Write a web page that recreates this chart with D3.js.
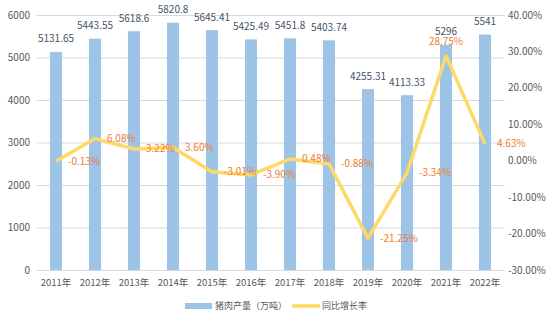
<!DOCTYPE html>
<html><head><meta charset="utf-8">
<script src="https://cdn.jsdelivr.net/npm/d3@7/dist/d3.min.js"></script>
<style>body{margin:0;background:#fff}svg{display:block}text{font-family:"Noto Sans CJK SC","Noto Sans",sans-serif}</style>
</head><body>
<svg id="c" width="554" height="323"></svg>
<script>
const years = ["2011年","2012年","2013年","2014年","2015年","2016年","2017年","2018年","2019年","2020年","2021年","2022年"];
const production = [5131.65,5443.55,5618.6,5820.8,5645.41,5425.49,5451.8,5403.74,4255.31,4113.33,5296,5541];
const productionLabels = ["5131.65","5443.55","5618.6","5820.8","5645.41","5425.49","5451.8","5403.74","4255.31","4113.33","5296","5541"];
const growth = [-0.13,6.08,3.22,3.60,-3.01,-3.90,0.48,-0.88,-21.25,-3.34,28.75,4.63];
const growthLabels = ["-0.13%","6.08%","3.22%","3.60%","-3.01%","-3.90%","0.48%","-0.88%","-21.25%","-3.34%","28.75%","4.63%"];
const leftTicks = [0,1000,2000,3000,4000,5000,6000];
const rightTicks = [-30,-20,-10,0,10,20,30,40];
const legendNames = ["猪肉产量（万吨）","同比增长率"];

const svg = d3.select("#c");
const x = d3.scaleBand().domain(years).range([36.5,504.5]).paddingInner(0.69).paddingOuter(0.345);
const yL = d3.scaleLinear().domain([0,6000]).range([270,15]);
const yR = d3.scaleLinear().domain([-30,40]).range([270,15]);
const cx = d => x(d) + x.bandwidth()/2;

// grid
svg.append("g").selectAll("line").data(leftTicks).join("line")
  .attr("x1",36.5).attr("x2",504.5).attr("y1",d=>yL(d)+0.5).attr("y2",d=>yL(d)+0.5)
  .attr("stroke","#D9D9D9").attr("stroke-width",1);

// left axis labels
svg.append("g").selectAll("text").data(leftTicks).join("text")
  .attr("x",30).attr("y",d=>yL(d)).attr("dy","0.35em").attr("text-anchor","end")
  .attr("font-size",10).attr("fill","#595959").text(d=>d);
// right axis labels
svg.append("g").selectAll("text").data(rightTicks).join("text")
  .attr("x",508).attr("y",d=>yR(d)).attr("dy","0.35em").attr("text-anchor","start")
  .attr("font-size",10).attr("fill","#595959").text(d=>d.toFixed(2)+"%");
// x labels
svg.append("g").selectAll("text").data(years).join("text")
  .attr("x",d=>cx(d)).attr("y",283).attr("dy","0.35em").attr("text-anchor","middle")
  .attr("font-size",9.5).attr("fill","#595959").text(d=>d);

// bars
svg.append("g").selectAll("rect").data(production).join("rect")
  .attr("x",(d,i)=>x(years[i])).attr("width",x.bandwidth())
  .attr("y",d=>yL(d)).attr("height",d=>yL(0)-yL(d)).attr("fill","#9DC3E6");

// line
const line = d3.line().x((d,i)=>cx(years[i])).y(d=>yR(d));
svg.append("path").datum(growth).attr("d",line).attr("fill","none")
  .attr("stroke","#FFD966").attr("stroke-width",3.5).attr("stroke-linejoin","round");

// bar labels
svg.append("g").selectAll("text").data(production).join("text")
  .attr("x",(d,i)=>cx(years[i])).attr("y",d=>yL(d)-13).attr("dy","0.35em").attr("text-anchor","middle")
  .attr("font-size",10).attr("fill","#44546A").text((d,i)=>productionLabels[i]);

// line labels
svg.append("g").selectAll("text").data(growth).join("text")
  .attr("x",(d,i)=> i===10 ? cx(years[i]) : cx(years[i])+12)
  .attr("y",(d,i)=> i===10 ? yR(d)-14 : yR(d)).attr("dy","0.35em")
  .attr("text-anchor",(d,i)=> i===10 ? "middle" : "start")
  .attr("font-size",10).attr("fill","#ED7D31").text((d,i)=>growthLabels[i]);

// legend
const lg = svg.append("g");
lg.append("rect").attr("x",185).attr("y",303).attr("width",27).attr("height",6).attr("fill","#9DC3E6");
lg.append("text").attr("x",215).attr("y",306).attr("dy","0.35em").attr("font-size",9).attr("fill","#595959").text(legendNames[0]);
lg.append("line").attr("x1",292).attr("x2",320).attr("y1",306).attr("y2",306).attr("stroke","#FFD966").attr("stroke-width",3.5);
lg.append("text").attr("x",322).attr("y",306).attr("dy","0.35em").attr("font-size",9).attr("fill","#595959").text(legendNames[1]);
</script>
</body></html>
